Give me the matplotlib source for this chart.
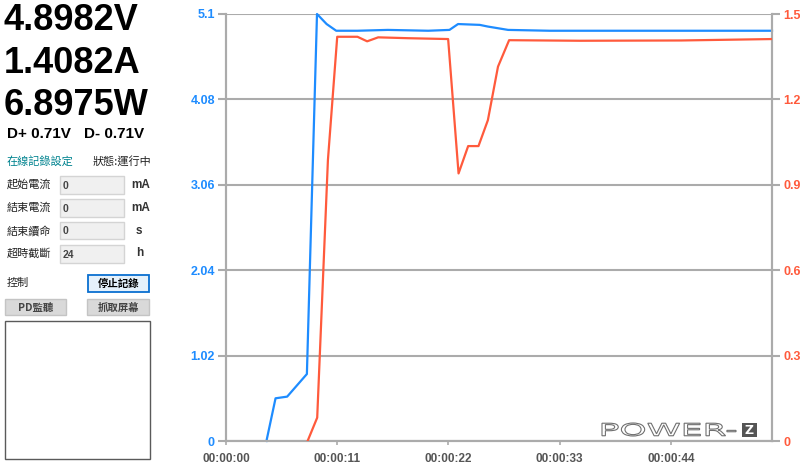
import matplotlib
matplotlib.use('Agg')
import matplotlib.pyplot as plt
from matplotlib.patches import Rectangle, PathPatch
from matplotlib.textpath import TextPath
from matplotlib.font_manager import FontProperties
from matplotlib.transforms import Affine2D

# readings shown on the left panel
volt_txt = "4.8982V"
amp_txt = "1.4082A"
watt_txt = "6.8975W"
dp_txt = "D+ 0.71V"
dm_txt = "D- 0.71V"

# voltage trace (left axis)
t_volt = [4.0, 4.9, 6.05, 8.0, 9.0, 9.95, 10.9, 13, 16, 20, 22.1, 22.95, 25.1, 25.9, 27.9, 32, 40, 48, 54]
volt = [0, 0.51, 0.53, 0.80, 5.1, 4.98, 4.90, 4.90, 4.91, 4.90, 4.91, 4.98, 4.97, 4.95, 4.91, 4.90, 4.90, 4.90, 4.90]

# current trace (right axis)
t_curr = [8.07, 9.02, 10.08, 11.0, 13.0, 13.96, 15.05, 18, 21.97, 23.0, 23.95, 24.97, 25.9, 26.9, 28.0, 35, 45, 54]
curr = [0, 0.082, 0.987, 1.42, 1.42, 1.404, 1.418, 1.415, 1.412, 0.94, 1.036, 1.036, 1.127, 1.315, 1.408, 1.406, 1.407, 1.412]

volt_ticks = [0, 1.02, 2.04, 3.06, 4.08, 5.1]
volt_labels = ["0", "1.02", "2.04", "3.06", "4.08", "5.1"]
curr_ticks = [0, 0.3, 0.6, 0.9, 1.2, 1.5]
curr_labels = ["0", "0.3", "0.6", "0.9", "1.2", "1.5"]
time_ticks = [0, 11, 22, 33, 44]
time_labels = ["00:00:00", "00:00:11", "00:00:22", "00:00:33", "00:00:44"]

# settings rows
row_names = ["起始電流", "結束電流", "結束續命", "超時截斷"]
row_vals = ["0", "0", "0", "24"]
row_units = ["mA", "mA", "s", "h"]

W, H = 800, 466
BLUE = '#1e8cff'
RED = '#ff5a3c'
GRID = '#ababab'
CJK = ['Noto Sans CJK TC', 'DejaVu Sans']
LAT = 'Liberation Sans'

fig = plt.figure(figsize=(W / 100, H / 100), dpi=100)

# pixel coords (origin top-left) -> figure
pix = Affine2D().scale(1 / W, -1 / H).translate(0, 1) + fig.transFigure


def ftext(x, y, s, **kw):
    fig.text(x / W, 1 - y / H, s, **kw)


def frect(x0, y0, x1, y1, **kw):
    fig.add_artist(Rectangle((x0, y0), x1 - x0, y1 - y0, transform=pix, **kw))


# ---- left panel ----
big = dict(fontsize=26, weight='bold', family=LAT, va='baseline', color='black')
ftext(4, 30, volt_txt, **big)
ftext(4, 73, amp_txt, **big)
ftext(4, 115, watt_txt, **big)
ftext(7, 138, dp_txt, fontsize=11, weight='bold', family=LAT, va='baseline')
ftext(84, 138, dm_txt, fontsize=11, weight='bold', family=LAT, va='baseline')

ftext(7, 161, "在線記錄設定", fontsize=8, family=CJK, va='center', color='#00838f')
ftext(93, 161, "狀態:運行中", fontsize=8, family=CJK, va='center', color='#222222')

row_y = [185, 208, 231, 253]
box_y = [(176, 194), (199, 217), (222, 239), (245, 263)]
for name, val, unit, y, (b0, b1) in zip(row_names, row_vals, row_units, row_y, box_y):
    ftext(7, y, name, fontsize=8, family=CJK, va='center', color='#222222')
    frect(60, b0, 124, b1, facecolor='#f0f0f0', edgecolor='#d4d4d4', lw=1)
    ftext(63, (b0 + b1) / 2 + 1, val, fontsize=7.5, weight='bold', family=LAT,
          va='center', color='#444444')
    ux = 131 if unit == 'mA' else 136
    ftext(ux, y, unit, fontsize=8.5, weight='bold', family=LAT, va='center', color='#333333')

ftext(7, 283, "控制", fontsize=8, family=CJK, va='center', color='#222222')

frect(88, 275, 149, 292, facecolor='#e5f1fb', edgecolor='#0a6fd0', lw=1.3)
ftext(118.5, 284, "停止記錄", fontsize=7.5, weight='bold', family=CJK, ha='center', va='center')
frect(5, 299, 66, 315, facecolor='#d9d9d9', edgecolor='#c4c4c4', lw=1)
ftext(35.5, 307.5, "PD監聽", fontsize=7.5, weight='bold', family=CJK, ha='center', va='center', color='#444444')
frect(87, 299, 149, 315, facecolor='#d9d9d9', edgecolor='#c4c4c4', lw=1)
ftext(118, 307.5, "抓取屏幕", fontsize=7.5, weight='bold', family=CJK, ha='center', va='center', color='#444444')

frect(5, 321, 150, 459, facecolor='white', edgecolor='#5a5a5a', lw=1)

# ---- chart ----
ax = fig.add_axes([226 / W, 25 / H, 546 / W, 427 / H])
ax2 = ax.twinx()

ax.set_xlim(0, 54)
ax.set_ylim(0, 5.1)
ax2.set_ylim(0, 1.5)

ax.set_yticks(volt_ticks)
ax.set_yticklabels(volt_labels)
ax2.set_yticks(curr_ticks)
ax2.set_yticklabels(curr_labels)
ax.set_xticks(time_ticks)
ax.set_xticklabels(time_labels)

ax.grid(axis='y', color=GRID, lw=1.5)
ax.set_axisbelow(True)

for a in (ax, ax2):
    a.spines['top'].set_visible(False)
    for s in ('left', 'right', 'bottom'):
        a.spines[s].set_color(GRID)
        a.spines[s].set_linewidth(1.5)

ax.tick_params(axis='y', colors=GRID, length=6, width=1.5, pad=2)
ax2.tick_params(axis='y', colors=GRID, length=6, width=1.5, pad=2)
ax.tick_params(axis='x', colors=GRID, length=3, width=1.2, pad=6)
for lbl in ax.get_yticklabels():
    lbl.set(color=BLUE, fontsize=9, weight='bold', family=LAT)
for lbl in ax2.get_yticklabels():
    lbl.set(color=RED, fontsize=9, weight='bold', family=LAT)
for lbl in ax.get_xticklabels():
    lbl.set(color='#555555', fontsize=8.5, weight='bold', family=LAT)

ax.plot(t_volt, volt, color=BLUE, lw=1.6, clip_on=False, zorder=3)
ax2.plot(t_curr, curr, color=RED, lw=1.6, zorder=3)

# ---- POWER-Z logo ----
tp = TextPath((0, 0), "POWER-", size=10, prop=FontProperties(family='DejaVu Sans'))
ext = tp.get_extents()
x0, x1, y0, y1 = 602, 736, 423, 436
m = (Affine2D().translate(-ext.x0, -ext.y0)
     .scale((x1 - x0) / ext.width, -(y1 - y0) / ext.height)
     .translate(x0, y1))
fig.add_artist(PathPatch(tp, transform=m + pix, facecolor='none', edgecolor='#707070', lw=0.8))
frect(742, 423, 757, 437, facecolor='#555555', edgecolor='none')
ftext(749.5, 430.5, "Z", fontsize=9, weight='bold', family='DejaVu Sans', ha='center', va='center', color='white')

fig.savefig('out.png', dpi=100)
